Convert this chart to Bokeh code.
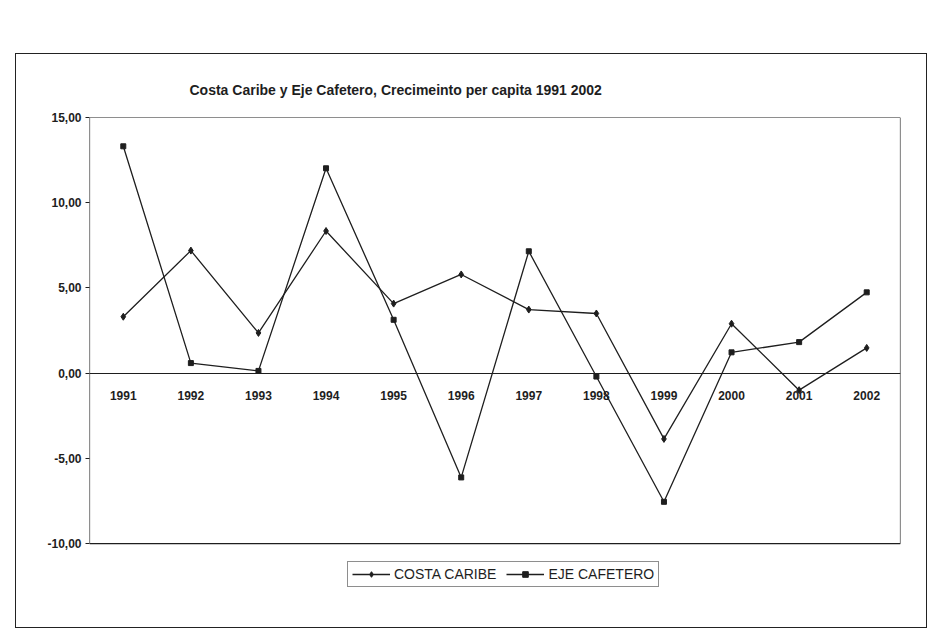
from bokeh.plotting import figure
from bokeh.models import Legend, LegendItem, FixedTicker, Range1d, Spacer, BoxAnnotation
from bokeh.layouts import column, row
from bokeh.embed import file_html
from bokeh.resources import INLINE

# ---- data ----
years = [1991, 1992, 1993, 1994, 1995, 1996, 1997, 1998, 1999, 2000, 2001, 2002]
year_labels = ["1991", "1992", "1993", "1994", "1995", "1996",
               "1997", "1998", "1999", "2000", "2001", "2002"]
costa_caribe = [3.31, 7.19, 2.36, 8.34, 4.08, 5.79, 3.73, 3.50, -3.86, 2.90, -1.00, 1.48]
eje_cafetero = [13.31, 0.59, 0.13, 12.02, 3.13, -6.12, 7.15, -0.20, -7.55, 1.22, 1.82, 4.74]
y_ticks = [-10, -5, 0, 5, 10, 15]
y_tick_labels = ["-10,00", "-5,00", "0,00", "5,00", "10,00", "15,00"]
y_min, y_max = -10, 15
title_text = "Costa Caribe y Eje Cafetero, Crecimeinto per capita 1991 2002"
series_names = ["COSTA CARIBE", "EJE CAFETERO"]

FONT = "Liberation Sans"
INK = "#1e1e1e"

# the frame extends below the plot area so that the legend can sit under it
p = figure(width=912, height=575,
           x_range=Range1d(1990.5, 2002.5), y_range=Range1d(-13.4, y_max),
           output_backend="svg", toolbar_location=None,
           min_border_left=73, min_border_right=28,
           min_border_top=63, min_border_bottom=28)
p.styles = {"border": "1px solid #222"}
p.background_fill_color = "white"
p.border_fill_color = "white"
p.outline_line_color = None
p.xgrid.visible = False
p.ygrid.visible = False

# plot-area border
p.add_layout(BoxAnnotation(left=1990.5, right=2002.5, bottom=y_min, top=y_max,
                           fill_color=None, fill_alpha=0,
                           line_color=INK, line_alpha=1.0, line_width=1.2))

# title
p.title.text = title_text
p.title.align = "left"
p.title.offset = 100
p.title.text_font = FONT
p.title.text_font_size = "14px"
p.title.text_font_style = "bold"
p.title.text_color = INK
p.title.standoff = 40

# x axis pinned on zero line
p.xaxis.fixed_location = 0
p.xaxis.ticker = FixedTicker(ticks=years)
p.xaxis.major_label_overrides = {y: l for y, l in zip(years, year_labels)}
p.xaxis.major_tick_line_color = None
p.xaxis.minor_tick_line_color = None
p.xaxis.axis_line_color = INK
p.xaxis.axis_line_width = 1
p.xaxis.major_label_standoff = 12
p.xaxis.major_label_text_font = FONT
p.xaxis.major_label_text_font_size = "12px"
p.xaxis.major_label_text_font_style = "bold"
p.xaxis.major_label_text_color = INK

# y axis (line drawn by the plot-area border)
p.yaxis.ticker = FixedTicker(ticks=y_ticks)
p.yaxis.major_label_overrides = {t: l for t, l in zip(y_ticks, y_tick_labels)}
p.yaxis.major_tick_out = 4
p.yaxis.major_tick_in = 0
p.yaxis.major_tick_line_color = INK
p.yaxis.minor_tick_line_color = None
p.yaxis.axis_line_color = None
p.yaxis.major_label_standoff = 4
p.yaxis.major_label_text_font = FONT
p.yaxis.major_label_text_font_size = "12px"
p.yaxis.major_label_text_font_style = "bold"
p.yaxis.major_label_text_color = INK

# series
l1 = p.line(years, costa_caribe, line_color=INK, line_width=1.3)
m1 = p.scatter(years, costa_caribe, marker="diamond", size=7,
               fill_color=INK, line_color=INK)
l2 = p.line(years, eje_cafetero, line_color=INK, line_width=1.3)
m2 = p.scatter(years, eje_cafetero, marker="square", size=5,
               fill_color=INK, line_color=INK)

legend = Legend(items=[LegendItem(label=series_names[0], renderers=[l1, m1]),
                       LegendItem(label=series_names[1], renderers=[l2, m2])],
                orientation="horizontal", location=(258, 14))
legend.border_line_color = INK
legend.border_line_width = 1
legend.background_fill_color = "white"
legend.background_fill_alpha = 1
legend.padding = 4
legend.spacing = 10
legend.margin = 0
legend.glyph_width = 38
legend.glyph_height = 14
legend.label_standoff = 4
legend.label_text_font = FONT
legend.label_text_font_size = "14px"
legend.label_text_color = INK
legend.label_height = 14
p.add_layout(legend, "center")

layout = column(Spacer(height=53), row(Spacer(width=15), p))

with open("out.html", "w") as f:
    f.write(file_html(layout, INLINE))
